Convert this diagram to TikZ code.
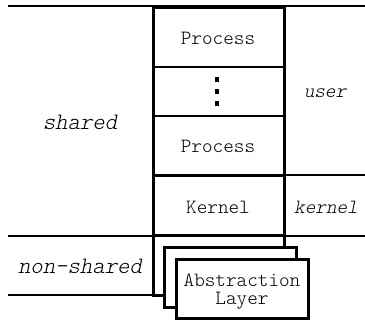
\documentclass[tikz,border=0pt]{standalone}
\usepackage{fontspec}
\setmonofont{Latin Modern Mono Light}[ItalicFont={Latin Modern Mono Light}, ItalicFeatures={FakeSlant=0.2}]
\begin{document}
\begin{tikzpicture}[x=0.5pt,y=-0.5pt,
  thinline/.style={line width=0.6pt},
  thickline/.style={line width=1.5pt},
  lbl/.style={font=\fontsize{10.1}{9}\selectfont\ttfamily, inner sep=0pt, align=center},
  side/.style={font=\fontsize{10.1}{9}\selectfont\ttfamily\itshape, inner sep=0pt},
  bigside/.style={font=\fontsize{11.8}{9}\selectfont\ttfamily\itshape, inner sep=0pt},
  card/.style={thickline, draw, fill=white}]
\useasboundingbox (0,0) rectangle (365,322);

% layer boundaries
\draw[thinline] (8,6) -- (365,6);
\draw[thinline] (284,175) -- (365,175);
\draw[thinline] (8,236) -- (365,236);
\draw[thinline] (8,295) -- (153,295);

% stack of processes and kernel
\draw[thinline] (153,67) -- (284,67);
\draw[thinline] (153,116) -- (284,116);
\draw[thickline] (153,175) -- (284,175);
\draw[thickline] (153,7) rectangle (284,235);
\draw[thickline] (153,235) -- (153,295) -- (170,295);
\draw[thickline] (284,235) -- (284,255);

% vertical ellipsis
\foreach \yy in {79,91,103}
  \fill (215,\yy-2.5) rectangle (219,\yy+2.5);

% abstraction layer cards
\draw[card] (164,247) rectangle (296,307);
\draw[card] (176,259) rectangle (308,318);

\node[lbl] (p1) at (218,38) {Process};
\node[lbl] (p2) at (218,146) {Process};
\node[lbl] (k) at (218,207) {Kernel};
\node[lbl] (al) at (242,292) {Abstraction\\Layer};

\node[bigside] (shared) at (80,122) {shared};
\node[side] (user) at (325,93) {user};
\node[side] (kern) at (326,207) {kernel};
\node[bigside] (nonshared) at (80,266) {non-shared};
\end{tikzpicture}
\end{document}
